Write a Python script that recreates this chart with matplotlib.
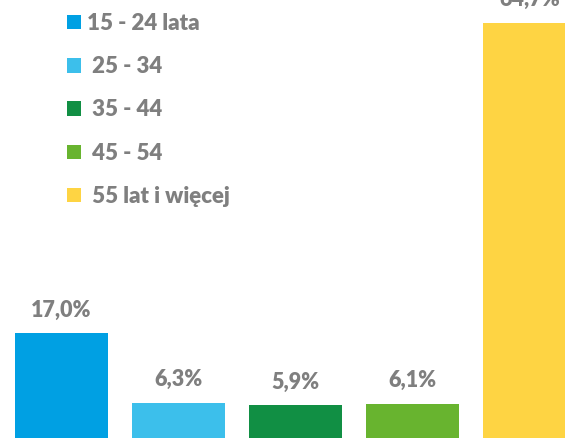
import matplotlib.pyplot as plt
from matplotlib.patches import Patch

# age groups and their shares (%)
groups = ["15 - 24 lata", " 25 - 34", " 35 - 44", " 45 - 54", " 55 lat i więcej"]
shares = [17.0, 6.3, 5.9, 6.1, 64.7]
labels = ["17,0%", "6,3%", "5,9%", "6,1%", "64,7%"]
colors = ["#00A0E3", "#3CBFEB", "#118F44", "#68B42F", "#FED443"]

grey = "#7f7f7f"
plt.rcParams['font.family'] = ['Lato', 'DejaVu Sans']

fig = plt.figure(figsize=(5.65, 4.38), dpi=100)
ax = fig.add_axes([0, 0, 1, 1])

x = range(len(shares))
bars = ax.bar(x, shares, width=0.8, color=colors)
for b, lab in zip(bars, labels):
    ax.annotate(lab, (b.get_x() + b.get_width() / 2, b.get_height()),
                xytext=(0, 23), textcoords='offset pixels',
                ha='center', va='center', fontsize=15.5, fontweight='heavy', color=grey)

ax.set_xlim(-0.526, 4.303)
ax.set_ylim(0.85, 68.2)
ax.axis('off')

handles = [Patch(facecolor=c, edgecolor='none') for c in colors]
leg = ax.legend(handles, groups, loc='upper left',
                bbox_to_anchor=(67 / 565, 1 - 13 / 438), bbox_transform=fig.transFigure,
                frameon=False, borderpad=0, borderaxespad=0,
                handlelength=0.62, handleheight=0.62, handletextpad=0.3,
                labelspacing=1.0, prop={'size': 16, 'weight': 'heavy'})
for t in leg.get_texts():
    t.set_color(grey)

fig.savefig("out.png", dpi=100)
